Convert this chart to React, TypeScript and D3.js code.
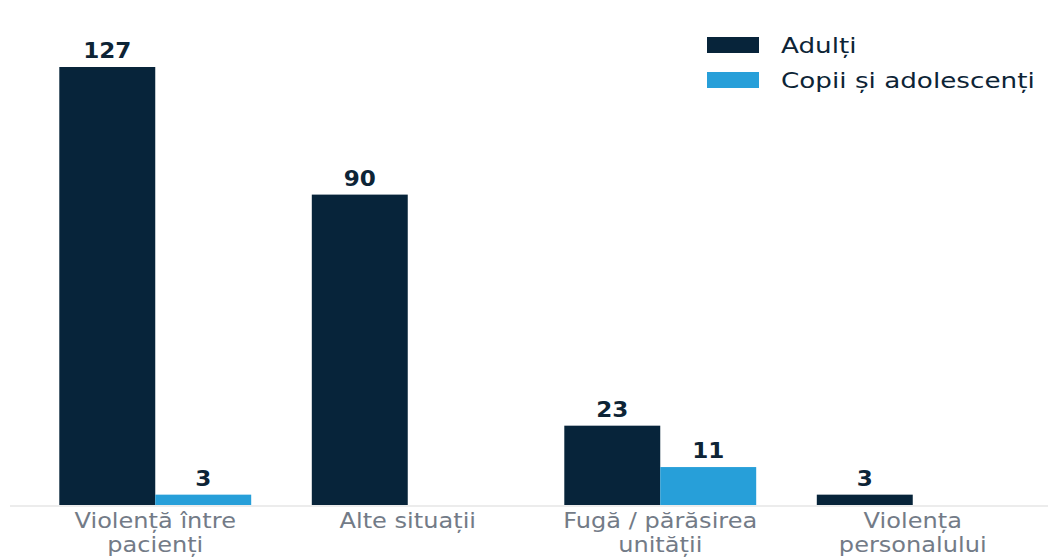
import React from 'react';
import * as d3 from 'd3';

const categories = [
  ['Violență între', 'pacienți'],
  ['Alte situații'],
  ['Fugă / părăsirea', 'unității'],
  ['Violența', 'personalului'],
];
const adulti = [127, 90, 23, 3];
const copii = [3, 0, 11, 0];
const seriesNames = ['Adulți', 'Copii și adolescenți'];
const colors = ['#07243a', '#279fd9'];

const W = 1053;
const H = 557;

const App = () => {
  const ref = React.useRef<SVGSVGElement>(null);

  React.useEffect(() => {
    const svg = d3.select(ref.current);
    svg.selectAll('*').remove();

    const baseY = 505;
    const keys = categories.map((c) => c.join(' '));

    const x = d3.scaleBand()
      .domain(keys)
      .range([29, 1039])
      .paddingInner(0.24)
      .paddingOuter(0.12);

    const xs = d3.scaleBand()
      .domain(['a', 'c'])
      .range([0, x.bandwidth()]);

    const y = d3.scaleLinear()
      .domain([0, 127])
      .range([baseY, 67]);

    // axis line
    svg.append('line')
      .attr('x1', 10).attr('x2', 1048)
      .attr('y1', baseY + 1).attr('y2', baseY + 1)
      .attr('stroke', '#ececec')
      .attr('stroke-width', 2);

    const series = [adulti, copii];
    series.forEach((vals, si) => {
      const key = si === 0 ? 'a' : 'c';
      const g = svg.append('g');
      vals.forEach((v, i) => {
        if (!v) return;
        const bx = x(keys[i]) + xs(key);
        g.append('rect')
          .attr('x', bx)
          .attr('y', y(v))
          .attr('width', xs.bandwidth())
          .attr('height', baseY - y(v))
          .attr('fill', colors[si]);
        const cx = bx + xs.bandwidth() / 2;
        g.append('text')
          .attr('transform', `translate(${cx},${y(v) - 9}) scale(1.05,1)`)
          .attr('text-anchor', 'middle')
          .attr('font-family', 'DejaVu Sans')
          .attr('font-weight', 'bold')
          .attr('font-size', 22)
          .attr('fill', '#0d2436')
          .text(v);
      });
    });

    // category labels
    categories.forEach((lines, i) => {
      const cx = x(keys[i]) + x.bandwidth() / 2;
      lines.forEach((ln, li) => {
        svg.append('text')
          .attr('transform', `translate(${cx},${528 + li * 24}) scale(1.12,1)`)
          .attr('text-anchor', 'middle')
          .attr('font-family', 'DejaVu Sans')
          .attr('font-size', 21.5)
          .attr('fill', '#737b87')
          .text(ln);
      });
    });

    // legend
    const legend = svg.append('g');
    seriesNames.forEach((name, i) => {
      const ly = 45 + i * 35;
      legend.append('rect')
        .attr('x', 707).attr('y', ly - 8)
        .attr('width', 52).attr('height', 16)
        .attr('fill', colors[i]);
      legend.append('text')
        .attr('transform', `translate(781,${ly + 8}) scale(1.22,1)`)
        .attr('font-family', 'DejaVu Sans')
        .attr('font-size', 21.5)
        .attr('fill', '#0d2436')
        .text(name);
    });
  }, []);

  return (
    <svg
      ref={ref}
      width={W}
      height={H}
      style={{ position: 'absolute', left: 0, top: 0, background: '#fff' }}
    />
  );
};

export default App;
